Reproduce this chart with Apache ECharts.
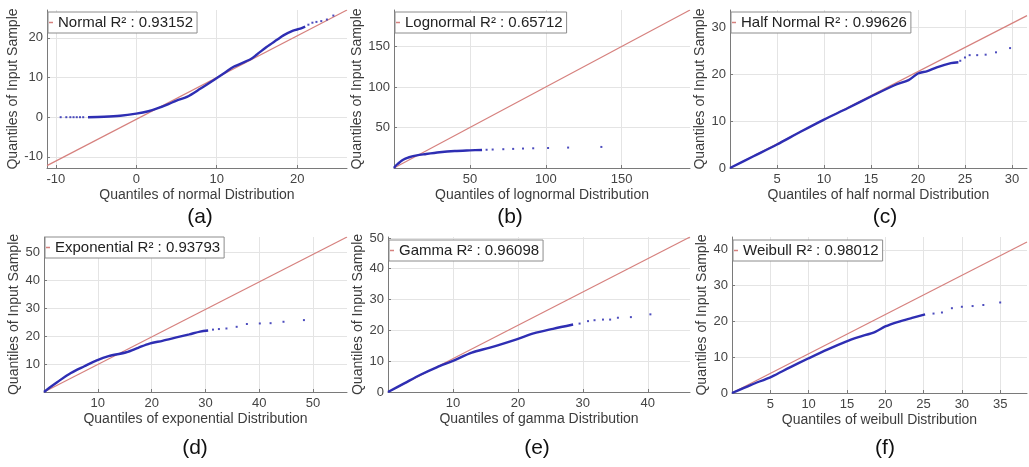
<!DOCTYPE html>
<html>
<head>
<meta charset="utf-8">
<script src="https://cdn.jsdelivr.net/npm/echarts@6/dist/echarts.min.js"></script>
<style>
  html, body { margin: 0; padding: 0; background: #ffffff; }
  #chart { width: 1029px; height: 467px; }
</style>
</head>
<body>
<div id="chart"></div>
<script>
// Q-Q plots of one sample against six candidate distributions.
const panelTags = ['(a)', '(b)', '(c)', '(d)', '(e)', '(f)'];
const distNames = ['normal', 'lognormal', 'half normal', 'exponential', 'gamma', 'weibull'];
const fitLabels = [
  'Normal R² : 0.93152',
  'Lognormal R² : 0.65712',
  'Half Normal R² : 0.99626',
  'Exponential R² : 0.93793',
  'Gamma R² : 0.96098',
  'Weibull R² : 0.98012'
];

// axis extents [min, max]
const xRanges = [[-11.1, 26.2], [0, 195], [0, 31.6], [0, 56.3], [0, 46.5], [0, 38.5]];
const yRanges = [[-12.8, 27.0], [0, 195], [0, 33.6], [0, 55.4], [0, 50.3], [0, 43.6]];

// tick labels
const xTicks = [[-10, 0, 10, 20], [50, 100, 150], [5, 10, 15, 20, 25, 30], [10, 20, 30, 40, 50], [10, 20, 30, 40], [5, 10, 15, 20, 25, 30, 35]];
const yTicks = [[-10, 0, 10, 20], [50, 100, 150], [0, 10, 20, 30], [10, 20, 30, 40, 50], [0, 10, 20, 30, 40, 50], [0, 10, 20, 30, 40]];

// reference (fit) lines, two end points each
const refLineA = [[-11.1, -12.2], [26.2, 27.0]];
const refLineB = [[0, 0], [195, 195]];
const refLineC = [[0, 0], [31.6, 32.4]];
const refLineD = [[0, 0], [56.3, 55.4]];
const refLineE = [[0, 0], [46.5, 50.3]];
const refLineF = [[0, 0], [38.5, 42.2]];

// dense part of the sample quantiles
const curveA = [[-6, 0.0], [-4, 0.1], [-2, 0.35], [0, 0.9], [1.5, 1.5], [2.6, 2.2], [4, 3.3], [5, 4.2], [6.3, 5.1], [8, 7.2], [9.6, 9.3], [11, 11.2], [12.1, 12.7], [14.2, 14.6], [15, 15.8], [16.2, 17.7], [17.5, 19.5], [18.3, 20.6], [19.5, 21.8], [20.4, 22.3], [21, 22.8]];
const curveB = [[0, 0], [1, 2.5], [2.5, 5], [5, 9], [7.5, 11.5], [10, 13.3], [15, 15.6], [20, 17], [30, 19.4], [40, 21], [50, 21.8], [58, 22.3]];
const curveC = [[0, 0], [2.5, 2.5], [5, 5], [7.5, 7.7], [10, 10.3], [12.5, 12.7], [15, 15.2], [17.5, 17.6], [19, 18.7], [20, 20.1], [21, 20.6], [22, 21.4], [23.5, 22.3], [24.3, 22.5]];
const curveD = [[0, 0], [1, 1.5], [2.5, 3.6], [5, 6.8], [7.5, 9.2], [9.7, 11.2], [12, 12.8], [15.3, 14.2], [17.5, 15.8], [19.6, 17.3], [22, 18.3], [24.6, 19.5], [27, 20.6], [29, 21.6], [30.5, 22]];
const curveE = [[0, 0], [2.5, 2.8], [5, 5.6], [7.5, 8], [10, 10.1], [12.9, 12.8], [15.7, 14.4], [19.8, 17.1], [22.4, 19], [25.4, 20.5], [28.5, 21.9]];
const curveF = [[0, 0], [2.5, 2.3], [5.2, 4.6], [7.5, 7.1], [10, 9.7], [12.5, 12.2], [14.8, 14.3], [16.5, 15.6], [18.7, 17.1], [20, 18.6], [21.7, 19.9], [23.5, 21.0], [25.2, 22]];

// sparse tail points
const tailA = [[-9.4, 0], [-8.7, 0], [-8.2, 0], [-7.8, 0], [-7.4, 0], [-7.0, 0], [-6.6, 0], [21.4, 23.3], [21.9, 23.8], [22.4, 24.0], [23.0, 24.2], [23.7, 24.6], [24.5, 25.6]];
const tailB = [[61, 22.5], [65, 22.8], [72, 23.2], [78.5, 23.6], [85, 24], [91.7, 24.3], [101.5, 24.7], [114.7, 25.2], [136.6, 26]];
const tailC = [[24.5, 22.8], [25.0, 23.5], [25.5, 24.0], [26.3, 24.0], [27.2, 24.1], [28.3, 24.6], [29.8, 25.5]];
const tailD = [[31.4, 22.3], [32.5, 22.5], [33.9, 22.7], [35.8, 23.3], [37.7, 24.3], [40.1, 24.5], [42.1, 24.6], [44.5, 25.1], [48.3, 25.7]];
const tailE = [[29.5, 22.2], [30.8, 23], [31.8, 23.3], [33.1, 23.5], [34.2, 23.5], [35.4, 24.1], [37.4, 24.3], [40.4, 25.2]];
const tailF = [[26.3, 22.2], [27.4, 22.5], [28.7, 23.7], [30, 24.1], [31.4, 24.3], [32.8, 24.6], [35, 25.3]];

const refLines = [refLineA, refLineB, refLineC, refLineD, refLineE, refLineF];
const curves = [curveA, curveB, curveC, curveD, curveE, curveF];
const tails = [tailA, tailB, tailC, tailD, tailE, tailF];

// plot boxes in pixels: left, top, width, height
const boxes = [
  { left: 47,  top: 10,  width: 300, height: 158 },
  { left: 394, top: 10,  width: 296, height: 158 },
  { left: 730, top: 10,  width: 297, height: 158 },
  { left: 44,  top: 237, width: 303, height: 155 },
  { left: 388, top: 237, width: 302, height: 155 },
  { left: 732, top: 237, width: 295, height: 156 }
];
const yNameGaps = [26, 26, 19, 22, 20, 19];
const legendTops = [12, 12, 12, 237, 240, 240];
const captionPos = [[200, 217], [510, 217], [885, 217], [195, 448], [537, 448], [885, 448]];

const FONT = '"Liberation Sans", Arial, Helvetica, sans-serif';
const RED = '#d6817e';
const BLUE = '#2e2eb3';
const AXIS = '#7a7a7a';
const GRIDC = '#e4e4e4';

const grid = [], xAxis = [], yAxis = [], series = [], legend = [], graphic = [];

boxes.forEach((b, i) => {
  grid.push({ left: b.left, top: b.top, width: b.width, height: b.height, containLabel: false });
  xAxis.push({
    type: 'value', gridIndex: i, min: xRanges[i][0], max: xRanges[i][1],
    name: 'Quantiles of ' + distNames[i] + ' Distribution',
    nameLocation: 'middle', nameGap: 20,
    nameTextStyle: { fontSize: 14, color: '#3c3c3c', fontFamily: FONT },
    axisLine: { onZero: false, lineStyle: { color: AXIS, width: 1 } },
    axisTick: { show: true, inside: true, length: 3, customValues: xTicks[i], lineStyle: { color: AXIS } },
    axisLabel: { customValues: xTicks[i], fontSize: 13, color: '#444', fontFamily: FONT, margin: 5 },
    splitLine: { show: true, lineStyle: { color: GRIDC, width: 1 } }
  });
  yAxis.push({
    type: 'value', gridIndex: i, min: yRanges[i][0], max: yRanges[i][1],
    name: 'Quantiles of Input Sample',
    nameLocation: 'middle', nameGap: yNameGaps[i],
    nameTextStyle: { fontSize: 14, color: '#3c3c3c', fontFamily: FONT },
    axisLine: { onZero: false, lineStyle: { color: AXIS, width: 1 } },
    axisTick: { show: true, inside: true, length: 3, customValues: yTicks[i], lineStyle: { color: AXIS } },
    axisLabel: { customValues: yTicks[i], fontSize: 13, color: '#444', fontFamily: FONT, margin: 4 },
    splitLine: { show: true, lineStyle: { color: GRIDC, width: 1 } }
  });
  series.push({
    name: fitLabels[i], type: 'line', xAxisIndex: i, yAxisIndex: i,
    data: refLines[i], symbol: 'none', silent: true,
    lineStyle: { color: RED, width: 1.2 }, itemStyle: { color: RED }, z: 2
  });
  series.push({
    name: 'sample' + i, type: 'line', xAxisIndex: i, yAxisIndex: i,
    data: curves[i], symbol: 'none', smooth: 0.3, silent: true,
    lineStyle: { color: BLUE, width: 2.4 }, z: 3
  });
  series.push({
    name: 'tail' + i, type: 'scatter', xAxisIndex: i, yAxisIndex: i,
    data: tails[i], symbol: 'rect', symbolSize: 2, silent: true,
    itemStyle: { color: BLUE, opacity: 0.85 }, z: 3
  });
  legend.push({
    data: [fitLabels[i]], left: b.left + 1, top: legendTops[i],
    backgroundColor: '#ffffff', borderColor: '#8c8c8c', borderWidth: 1,
    padding: [3, 4, 3, 1], itemWidth: 4, itemHeight: 1.5, icon: 'rect',
    selectedMode: false,
    textStyle: { fontSize: 15, color: '#222', fontFamily: FONT }
  });
  graphic.push({
    type: 'text', x: captionPos[i][0], y: captionPos[i][1],
    style: { text: panelTags[i], fill: '#111', font: '21px ' + FONT, textAlign: 'center', textVerticalAlign: 'middle' }
  });
});

const chart = echarts.init(document.getElementById('chart'), null, { renderer: 'canvas' });
chart.setOption({
  backgroundColor: '#ffffff',
  animation: false,
  grid, xAxis, yAxis, series, legend, graphic
});
</script>
</body>
</html>
